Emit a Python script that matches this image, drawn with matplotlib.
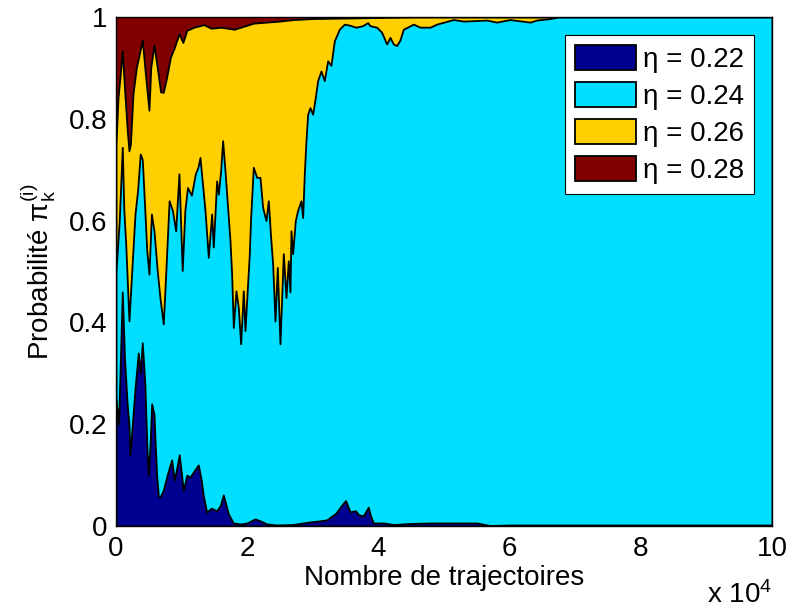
"""Stacked probability areas pi_k^(i) vs number of trajectories."""
import numpy as np
import matplotlib.pyplot as plt
from matplotlib.ticker import FuncFormatter

plt.rcParams['font.family'] = ['Liberation Sans', 'DejaVu Sans']
plt.rcParams['mathtext.fontset'] = 'custom'
plt.rcParams['mathtext.rm'] = 'Liberation Sans'
plt.rcParams['mathtext.it'] = 'Liberation Sans:italic'

# cumulative probability (top edge of each stacked area)
x_top = [0, 100000]
cum_028 = [1.0, 1.0]

x_026 = [0, 300, 600, 960, 1300, 1700, 1980, 2200, 2600, 3100, 3600, 4010,
         4400, 4700, 5030, 5300, 5790, 6300, 6800, 7210, 7700, 8300, 8900,
         9600, 10200, 10800, 11900, 13400, 14500, 16000, 18000, 19500,
         21000, 23000, 25000, 27000, 30000, 35000, 40000, 45000, 100000]
cum_026 = [0.75, 0.84, 0.88, 0.934, 0.86, 0.78, 0.737, 0.75, 0.85, 0.90,
           0.93, 0.955, 0.90, 0.86, 0.817, 0.90, 0.945, 0.90, 0.853, 0.852,
           0.88, 0.921, 0.94, 0.967, 0.95, 0.974, 0.98, 0.985, 0.978, 0.98,
           0.976, 0.982, 0.988, 0.99, 0.992, 0.995, 0.997, 0.998, 0.999,
           1.0, 1.0]

x_024 = [0, 500, 960, 1200, 1500, 1980, 2400, 2900, 3300, 3700, 4010, 4400,
         4700, 5030, 5400, 5790, 6300, 6700, 7210, 7600, 8100, 8600, 9100,
         9600, 10100, 10500, 10900, 11500, 12100, 12500, 12805, 13567,
         14075, 14583, 14837, 15345, 15600, 15955, 16260, 16616, 17378,
         17632, 17886, 18293, 18648, 19004, 19410, 19665, 20325, 20528,
         20935, 21443, 21951, 22358, 22866, 23221, 23577, 23882, 24238,
         24593, 25000, 25508, 25915, 26270, 26524, 26677, 26931, 27337,
         27693, 28201, 28455, 28709, 28963, 29217, 29573, 29980, 30386,
         30742, 31250, 31758, 32266, 32774, 33282, 34045, 34807, 35569,
         36585, 37602, 38364, 38720, 39740, 40500, 41260, 41770, 42280,
         42790, 43290, 43800, 45330, 46340, 47870, 48880, 51420, 53000,
         56500, 58030, 60060, 63110, 64130, 66160, 67500, 100000]
cum_024 = [0.50, 0.60, 0.744, 0.62, 0.55, 0.403, 0.50, 0.613, 0.66, 0.731,
           0.72, 0.62, 0.54, 0.495, 0.613, 0.58, 0.50, 0.449, 0.397, 0.50,
           0.639, 0.62, 0.58, 0.692, 0.502, 0.62, 0.665, 0.65, 0.692, 0.705,
           0.724, 0.62, 0.528, 0.613, 0.548, 0.678, 0.652, 0.698, 0.757,
           0.698, 0.561, 0.495, 0.39, 0.462, 0.429, 0.358, 0.462, 0.384,
           0.535, 0.606, 0.705, 0.685, 0.685, 0.626, 0.60, 0.639, 0.567,
           0.515, 0.403, 0.508, 0.358, 0.535, 0.449, 0.521, 0.46, 0.58,
           0.535, 0.60, 0.62, 0.639, 0.606, 0.692, 0.757, 0.809, 0.822,
           0.809, 0.842, 0.875, 0.894, 0.875, 0.914, 0.905, 0.953, 0.976,
           0.986, 0.984, 0.98, 0.983, 0.989, 0.983, 0.98, 0.97, 0.947, 0.96,
           0.947, 0.944, 0.955, 0.976, 0.986, 0.98, 0.98, 0.986, 0.995,
           0.992, 0.994, 0.99, 0.995, 0.99, 0.994, 0.997, 1.0, 1.0]

x_022 = [0, 400, 960, 1300, 1700, 1980, 2130, 2500, 2900, 3400, 3700, 4010,
         4400, 4700, 4930, 5200, 5440, 5790, 5950, 6200, 6450, 6710, 7210,
         7800, 8490, 8900, 9650, 10260, 10800, 11280, 12000, 12550, 13000,
         13310, 13820, 14500, 15340, 15900, 16360, 16800, 17120, 17880,
         19000, 20000, 21190, 22000, 23000, 24490, 27000, 29570, 31000,
         32110, 33500, 34650, 35000, 35670, 36500, 37000, 37700, 38460,
         38800, 39230, 40750, 42270, 45000, 48000, 50000, 53000, 55000,
         57000, 60000, 100000]
cum_022 = [0.25, 0.20, 0.46, 0.33, 0.24, 0.20, 0.14, 0.20, 0.27, 0.34, 0.30,
           0.36, 0.28, 0.16, 0.10, 0.16, 0.24, 0.22, 0.17, 0.10, 0.06, 0.057,
           0.07, 0.10, 0.13, 0.09, 0.14, 0.07, 0.10, 0.096, 0.11, 0.12, 0.09,
           0.06, 0.027, 0.035, 0.03, 0.04, 0.061, 0.04, 0.024, 0.006, 0.004,
           0.006, 0.014, 0.01, 0.004, 0.002, 0.003, 0.008, 0.01, 0.012,
           0.025, 0.045, 0.05, 0.028, 0.03, 0.022, 0.02, 0.037, 0.02, 0.006,
           0.006, 0.003, 0.005, 0.006, 0.006, 0.006, 0.006, 0.001, 0.002,
           0.002]

layers = [(x_top, cum_028, (0.5, 0, 0), 'η = 0.28'),
          (x_026, cum_026, (1, 0.8125, 0), 'η = 0.26'),
          (x_024, cum_024, (0, 0.875, 1), 'η = 0.24'),
          (x_022, cum_022, (0, 0, 0.5625), 'η = 0.22')]

FS = 20

fig = plt.figure(figsize=(7.9, 6.1), dpi=100)
ax = fig.add_axes([0.1468, 0.1377, 0.8304, 0.8344])

handles = {}
for xs, ys, col, lab in layers:
    h = ax.fill_between(xs, 0, ys, facecolor=col, edgecolor='k',
                        linewidth=1.3, label=lab)
    handles[lab] = h

ax.set_xlim(0, 100000)
ax.set_ylim(0, 1)
ax.set_xticks(np.arange(0, 100001, 20000))
ax.set_yticks([0, 0.2, 0.4, 0.6, 0.8, 1])
ax.xaxis.set_major_formatter(FuncFormatter(lambda v, p: '%g' % (v / 1e4)))
ax.yaxis.set_major_formatter(FuncFormatter(lambda v, p: '%g' % v))
ax.tick_params(length=0, labelsize=FS)
ax.tick_params(axis='x', pad=7)
ax.tick_params(axis='y', pad=6)
for s in ax.spines.values():
    s.set_linewidth(1.0)

ax.set_xlabel('Nombre de trajectoires', fontsize=FS, labelpad=2)
ax.set_ylabel(r'Probabilité $\mathrm{\pi}_\mathrm{k}^{\mathrm{(i)}}$',
              fontsize=FS, labelpad=8)
ax.text(1.0, -0.163, r'x 10$^\mathrm{4}$', transform=ax.transAxes,
        ha='right', va='bottom', fontsize=FS)

order = ['η = 0.22', 'η = 0.24', 'η = 0.26', 'η = 0.28']
leg = ax.legend([handles[k] for k in order], order, loc='upper right',
                fontsize=FS, fancybox=False, framealpha=1, edgecolor='k',
                handlelength=2.2, handleheight=1.0, labelspacing=0.33,
                handletextpad=0.25, borderaxespad=0.65, borderpad=0.35)
leg.get_frame().set_linewidth(0.8)

plt.savefig('out.png', dpi=100, facecolor='white')
